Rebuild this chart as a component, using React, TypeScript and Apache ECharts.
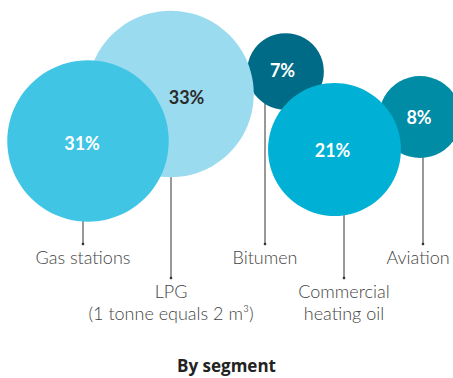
import React, { useEffect, useRef } from "react";
import * as echarts from "echarts";

// ---- data ----
const segments = ["Gas stations", "LPG", "Bitumen", "Commercial heating oil", "Aviation"];
const shares = [31, 33, 7, 21, 8];
const labelLines = [
  ["Gas stations"],
  ["LPG", "(1 tonne equals 2 m³)"],
  ["Bitumen"],
  ["Commercial", "heating oil"],
  ["Aviation"],
];
const bubbleX = [88, 170.5, 285.5, 334.5, 420];
const bubbleY = [141, 94, 71.5, 149.5, 117];
const title = "By segment";

// ---- layout / style ----
const colors = ["#40C5E5", "#9BDBF0", "#006B87", "#00B1D5", "#008CA5"];
const pctColors = ["#ffffff", "#2b2b2b", "#ffffff", "#ffffff", "#ffffff"];
const pctOffset = [[-6, 2], [16, 3], [-3, -2], [-2, 0], [-1, 0]];
const leaderX = [83, 171, 265, 344, 423];
const leaderEndY = [244, 278, 244, 278, 244];
const textShiftX = [0, 0, 0, 0, -5];
const drawOrder = [2, 4, 1, 0, 3];
const sizeK = 29;

export default function App() {
  const ref = useRef<HTMLDivElement>(null);
  useEffect(() => {
    if (!ref.current) return;
    const chart = echarts.init(ref.current, null, { renderer: "svg" });
    const font = "Lato, 'Noto Sans', sans-serif";

    const bubbleData = drawOrder.map((i) => ({
      value: [bubbleX[i], bubbleY[i], shares[i]],
      name: segments[i],
      itemStyle: { color: colors[i], opacity: 1 },
      label: {
        color: pctColors[i],
        offset: pctOffset[i],
      },
    }));

    const leaderData = segments.map((s, i) => ({
      value: [leaderX[i], bubbleY[i], leaderEndY[i], i],
      name: s,
    }));

    chart.setOption({
      animation: false,
      backgroundColor: "#ffffff",
      title: {
        text: title,
        left: "center",
        top: 357,
        padding: 0,
        textStyle: { fontFamily: "'Open Sans', sans-serif", fontSize: 17, fontWeight: "bold", color: "#222222" },
      },
      grid: { left: 0, right: 0, top: 0, bottom: 0 },
      xAxis: { type: "value", min: 0, max: 453, show: false },
      yAxis: { type: "value", min: 0, max: 378, inverse: true, show: false },
      series: [
        {
          type: "custom",
          z: 1,
          silent: true,
          renderItem: (params: any, api: any) => {
            const x = api.value(0);
            const y0 = api.value(1);
            const y1 = api.value(2);
            const idx = api.value(3);
            const p0 = api.coord([x, y0]);
            const p1 = api.coord([x, y1]);
            const children: any[] = [
              {
                type: "line",
                shape: { x1: p0[0], y1: p0[1], x2: p1[0], y2: p1[1] },
                style: { stroke: "#333333", lineWidth: 1 },
              },
              {
                type: "circle",
                shape: { cx: p1[0], cy: p1[1], r: 1.3 },
                style: { fill: "#333333" },
              },
            ];
            labelLines[idx].forEach((t, k) => {
              children.push({
                type: "text",
                x: p1[0] + textShiftX[idx],
                y: p1[1] + 13 + k * 22,
                style: {
                  text: t,
                  fontFamily: font,
                  fontSize: 18,
                  fontWeight: 300,
                  fill: "#444444",
                  align: "center",
                  verticalAlign: "middle",
                },
              });
            });
            return { type: "group", children };
          },
          data: leaderData,
        },
        {
          type: "scatter",
          z: 2,
          silent: true,
          symbol: "circle",
          symbolSize: (val: number[]) => sizeK * Math.sqrt(val[2]),
          label: {
            show: true,
            position: "inside",
            fontFamily: font,
            fontSize: 18,
            fontWeight: "bold",
            formatter: (p: any) => p.value[2] + "%",
          },
          data: bubbleData,
        },
      ],
    });
    return () => chart.dispose();
  }, []);
  return (
    <div
      ref={ref}
      style={{ position: "absolute", left: 0, top: 0, width: 453, height: 378 }}
    />
  );
}
